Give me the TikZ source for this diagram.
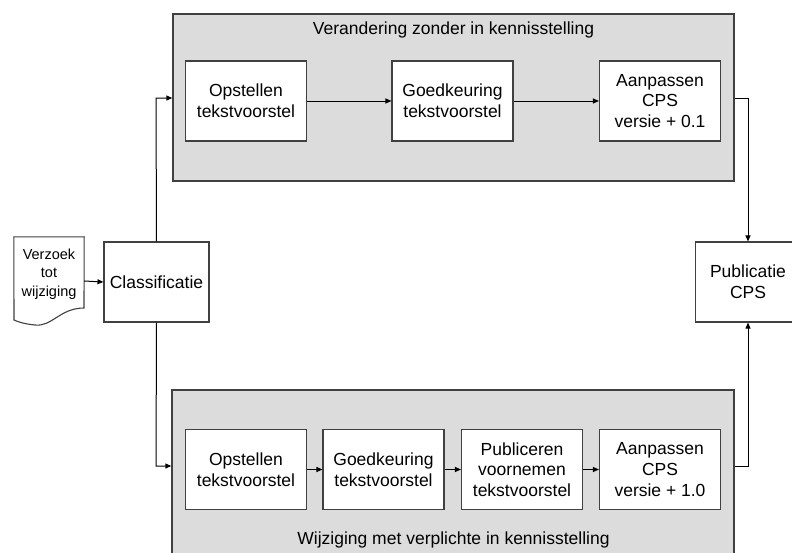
\documentclass[tikz,border=0pt]{standalone}
\usepackage{fontspec}
\setmainfont{Liberation Sans}
\usetikzlibrary{arrows.meta}
\definecolor{panelgray}{HTML}{DCDCDC}
\definecolor{edgegray}{HTML}{404040}
\tikzset{
  panel/.style={draw=edgegray, line width=1.3pt, fill=panelgray, inner sep=0pt},
  stepbox/.style={draw=edgegray, line width=1.1pt, fill=white, inner sep=0pt, minimum width=121pt, minimum height=80pt, align=center, font=\fontsize{17.5}{20.7}\selectfont},
  sidebox/.style={draw=edgegray, line width=1.1pt, fill=white, inner sep=0pt, minimum width=105pt, minimum height=80pt, align=center, font=\fontsize{17.5}{20.7}\selectfont},
  title/.style={inner sep=0pt, font=\fontsize{17.5}{20.7}\selectfont},
  conn/.style={draw=black, line width=1pt, -{Triangle[length=6pt,width=5pt]}}
}
\begin{document}
\begin{tikzpicture}[x=1pt,y=-1pt]
\clip (0,0) rectangle (792,552);
\useasboundingbox (0,0) rectangle (792,552);
\fill[white] (0,0) rectangle (792,552);
% panels
\node[panel, minimum width=561pt, minimum height=167pt] (top) at (453.5,97.5) {};
\node[panel, minimum width=562pt, minimum height=172pt] (bot) at (453,476) {};
\node[title] (toptitle) at (453.5,30) {Verandering zonder in kennisstelling};
\node[title] (bottitle) at (453.5,540) {Wijziging met verplichte in kennisstelling};
% top row
\node[stepbox] (o1) at (246,101) {Opstellen\\tekstvoorstel};
\node[stepbox] (g1) at (452.5,101) {Goedkeuring\\tekstvoorstel};
\node[stepbox] (a1) at (660,101) {Aanpassen\\CPS\\versie + 0.1};
% bottom row
\node[stepbox] (o2) at (246,469.5) {Opstellen\\tekstvoorstel};
\node[stepbox] (g2) at (383.5,469.5) {Goedkeuring\\tekstvoorstel};
\node[stepbox] (p2) at (522,469.5) {Publiceren\\voornemen\\tekstvoorstel};
\node[stepbox] (a2) at (660,469.5) {Aanpassen\\CPS\\versie + 1.0};
% side boxes
\node[sidebox] (cls) at (156.5,282) {Classificatie};
\node[sidebox] (pub) at (748,282) {Publicatie\\CPS};
% document
\node[inner sep=0pt, minimum width=70pt, minimum height=88pt] (doc) at (49,281) {};
\draw[draw=edgegray, line width=1.1pt, fill=white]
  (doc.north west) -- (doc.north east) -- (84,308)
  .. controls (60,308) and (52,327) .. (35,325)
  .. controls (25,324) and (18,322) .. (14,320) -- cycle;
\node[inner sep=0pt, align=center, font=\fontsize{14.5}{18.5}\selectfont] (doctext) at (49,274) {Verzoek\\tot\\wijziging};
% connectors
\coordinate (ctop) at (156,98);
\coordinate (cbot) at (156,466);
\coordinate (rtop) at (748,98);
\coordinate (rbot) at (748,466);
\draw[conn] (doc.east) -- (cls.west);
\draw[conn] (cls.north) -- (ctop) -- (top.west |- ctop);
\draw[conn] (cls.south) -- (cbot) -- (bot.west |- cbot);
\draw[conn] (o1) -- (g1);
\draw[conn] (g1) -- (a1);
\draw[conn] (o2) -- (g2);
\draw[conn] (g2) -- (p2);
\draw[conn] (p2) -- (a2);
\draw[conn] (top.east |- rtop) -- (rtop) -- (pub.north);
\draw[conn] (bot.east |- rbot) -- (rbot) -- (pub.south);
\end{tikzpicture}
\end{document}
